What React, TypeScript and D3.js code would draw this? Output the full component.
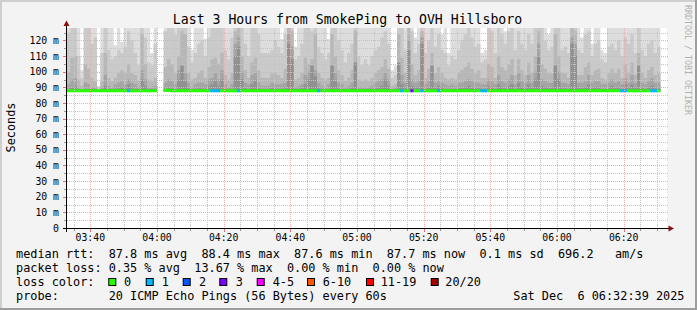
import React from "react";
import * as d3 from "d3";

// ---------- data ----------
const START = new Date(2025, 11, 6, 3, 33, 0);
const END = new Date(2025, 11, 6, 6, 33, 0);
const STEP_SEC = 60;
const Y_MAX = 128;
const SMOKE_BASE = 87.4;

// sorted ping values per 60s column (ms), outermost first; null = no data
const p20 = [
  130,130,130,130,101,130,130,130,130,91, 130,130,130,130,117,130,119,130,130,130, 130,130,130,130,130,112,130,null,null,
  130,130,130,130,130,130,130,130,114,130, 130,128,121,130,130,130,130,130,130,130, 130,130,130,130,130,130,130,130,130,130,
  130,130,130,130,130,121,130,130,130,116, 130,130,130,130,130,130,130,130,130,121, 130,130,130,130,130,130,130,130,130,130,
  130,130,130,130,130,130,130,130,101,104, 130,130,130,130,130,122,130,130,130,130, 130,130,130,124,130,112,130,130,130,130,
  130,130,130,130,130,112,114,130,130,130, 130,130,126,130,130,130,130,130,130,130, 130,130,130,130,130,124,130,130,130,130,
  130,130,130,130,130,122,130,130,118,130, 130,114,112,130,130,130,130,130,130,130, 130,130,130,130,130,130,130,130,130,
];
const p19 = [
  125,130,128,110,96,130,130,118,122,90, 112,130,114,108,110,114,112,116,126,120, 112,104,130,122,106,104,118,null,null,
  126,128,130,124,130,130,130,116,106,112, 118,120,110,122,130,130,128,130,114,108, 122,130,130,130,118,110,130,130,124,112,
  112,112,114,120,116,112,124,130,130,108, 110,118,130,130,126,130,116,112,108,112, 130,130,120,114,106,112,118,130,110,104,
  108,104,110,114,116,122,126,118,96,98, 130,130,114,130,126,112,118,130,112,120, 130,116,124,114,112,104,110,108,114,120,
  124,130,122,116,118,106,108,128,126,112, 130,124,118,126,128,114,126,118,114,124, 118,130,130,128,120,114,116,130,130,114,
  116,112,130,130,114,112,124,126,110,118, 120,108,106,116,118,114,120,110,122,118, 124,112,130,114,110,118,120,112,116,
];
const p18 = [
  100,109,110,95,91,105,102,96,94,89, 94,112,96,94,96,99,101,99,105,99, 98,94,124,105,95,94,96,null,null,
  103,108,105,99,110,126,124,99,95,96, 99,101,96,103,108,109,105,112,98,95, 99,126,128,110,101,96,106,109,101,96,
  96,96,99,99,98,96,102,128,126,95, 96,99,109,105,108,124,99,96,95,96, 124,110,101,98,94,96,101,126,95,94,
  95,94,96,99,101,103,108,102,91,92, 124,109,99,128,105,98,101,126,96,102, 112,99,103,99,96,95,96,95,99,101,
  103,106,102,99,101,96,96,105,103,96, 110,103,101,105,108,98,108,101,98,106, 99,110,126,105,102,99,99,124,110,99,
  99,96,128,126,98,98,103,106,98,101, 102,96,95,99,102,99,102,96,105,99, 106,98,112,99,96,101,103,98,99,
];
const p17 = [
  92,95,96,90,89,93,92,90,90,88.3, 90,98,91,90,92,93,94,92,95,93, 92,90,101,95,90,90,91,null,null,
  93,95,94,92,101,102,99,93,90,92, 93,93,92,95,96,99,95,101,92,90, 92,118,122,100,93,92,98,99,93,91,
  91,91,93,92,92,92,93,124,116,90, 91,92,98,100,101,101,93,91,90,92, 102,99,93,92,90,91,93,104,90,90,
  90,90,91,93,94,95,99,95,89,90, 104,98,93,120,95,93,94,122,92,94, 102,93,94,93,92,91,92,91,93,93,
  94,95,94,93,93,92,92,95,94,92, 98,94,93,95,98,92,99,94,93,98, 93,100,118,95,94,93,93,102,100,93,
  93,92,122,118,93,93,94,98,93,94, 94,92,92,93,95,93,94,92,96,93, 98,93,102,93,92,94,96,93,93,
];
const p16 = [
  89,90,91,89,88.8,89,89,89,89,88.2, 89,91,89,89,89,89.5,90,90,92,89.5, 89,89,95,91,89,89,89,null,null,
  89,90,89.5,89,95,104,94,89.5,89,89, 89.5,89.5,89,91,92,94,91,95,89,89, 89,110,116,95,89.5,89,92,94,89.5,89,
  89,89,89.5,89,89,89,89.5,118,108,89, 89,89.5,92,95,104,97,89.5,89,89,89, 104,94,89.5,89,89,89,89.5,106,89,89,
  89,89,89,89.5,90,91,95,91,88.8,89, 106,92,89.5,114,91,90,90,118,89,90, 104,89.5,91,90,89,89,89,89,89.5,89.5,
  90,91,90,89.5,89.5,89,89,91,90,89, 92,90,89.5,91,92,89,93,90,89.5,92, 89.5,95,110,91,90,89.5,89.5,104,95,89.5,
  89.5,89,118,110,89.5,89.5,90,92,89.5,90, 90,89,89,89.5,91,89.5,90,89,92,89.5, 92,89.5,104,89.5,89,90,91,89.5,89.5,
];

// median rtt as runs: [columns, ms]
const medianRuns: [number, number | null][] = [[27, 87.8], [2, null], [2, 88.2], [147, 87.8]];
// lost pings (of 20) as runs: [columns, lost]
const lossRuns: [number, number][] = [
  [18, 0], [1, 1], [24, 0], [3, 1], [5, 0], [1, 1], [23, 0], [1, 1], [24, 0], [1, 1], [2, 0], [1, 3],
  [2, 0], [1, 1], [4, 0], [1, 1], [12, 0], [2, 1], [40, 0], [2, 1], [7, 0], [2, 1], [1, 0],
];

const lossLegend = [
  { label: "0", color: "#26ff00", max: 0 },
  { label: "1", color: "#00b8ff", max: 1 },
  { label: "2", color: "#0059ff", max: 2 },
  { label: "3", color: "#7e00ff", max: 3 },
  { label: "4-5", color: "#ff00ff", max: 5 },
  { label: "6-10", color: "#ff5500", max: 10 },
  { label: "11-19", color: "#ff0000", max: 19 },
  { label: "20/20", color: "#a00000", max: 20 },
];
const smokeColors = ["#dddddd", "#cacaca", "#b7b7b7", "#a4a4a4", "#919191"];
const smokeBands = [p20, p19, p18, p17, p16];

const TITLE = "Last 3 Hours from SmokePing to OVH Hillsboro";
const Y_LABEL = "Seconds";
const WATERMARK = "RRDTOOL / TOBI OETIKER";
const LEGEND_RTT = "median rtt:  87.8 ms avg  88.4 ms max  87.6 ms min  87.7 ms now  0.1 ms sd  696.2   am/s";
const LEGEND_LOSS = "packet loss: 0.35 % avg  13.67 % max  0.00 % min  0.00 % now";
const LEGEND_COLOR = "loss color:";
const LEGEND_PROBE = "probe:       20 ICMP Echo Pings (56 Bytes) every 60s";
const DATE_STAMP = "Sat Dec  6 06:32:39 2025";

// ---------- layout ----------
const W = 697;
const H = 310;
const L = 67, R = 667, T = 28, B = 228;
const FONT = "'DejaVu Sans Mono', monospace";

function expand<T>(runs: [number, T][]): T[] {
  const out: T[] = [];
  runs.forEach(([n, v]) => { for (let i = 0; i < n; i++) out.push(v); });
  return out;
}

function dotsH(row: number, x0: number, x1: number) {
  let s = "";
  for (let xx = x0; xx < x1; xx += 2) s += `M${xx},${row}h1v1h-1z`;
  return s;
}
function dotsV(col: number, y0: number, y1: number) {
  let s = "";
  for (let yy = y0; yy < y1; yy += 2) s += `M${col},${yy}h1v1h-1z`;
  return s;
}

export default function App() {
  const x = d3.scaleTime().domain([START, END]).range([L, R]);
  const y = d3.scaleLinear().domain([0, Y_MAX]).range([B, T]);
  const n = p20.length;
  const colX = (k: number) => x(new Date(START.getTime() + k * STEP_SEC * 1000));
  const cy = (v: number) => y(Math.min(v, Y_MAX));

  const bandPath = (vals: (number | null)[]) => {
    const p = d3.path();
    let k = 0;
    while (k < n) {
      if (vals[k] == null) { k++; continue; }
      const s = k;
      p.moveTo(colX(s), y(SMOKE_BASE));
      while (k < n && vals[k] != null) {
        const yy = cy(vals[k] as number);
        p.lineTo(colX(k), yy);
        p.lineTo(colX(k + 1), yy);
        k++;
      }
      p.lineTo(colX(k), y(SMOKE_BASE));
      p.closePath();
    }
    return p.toString();
  };

  const medians = expand(medianRuns);
  const losses = expand(lossRuns);
  const lossColor = (l: number) => (lossLegend.find((d) => l <= d.max) || lossLegend[7]).color;

  const medSegs: { d: string; color: string }[] = [];
  {
    let k = 0;
    while (k < n) {
      if (medians[k] == null) { k++; continue; }
      const c = lossColor(losses[k]);
      const p = d3.path();
      p.moveTo(colX(k), y(medians[k] as number));
      while (k < n && medians[k] != null && lossColor(losses[k]) === c) {
        const yy = y(medians[k] as number);
        p.lineTo(colX(k), yy);
        p.lineTo(colX(k + 1), yy);
        k++;
      }
      medSegs.push({ d: p.toString(), color: c });
    }
  }

  const yMinor = d3.range(5, Y_MAX, 10);
  const yMajor = d3.range(10, Y_MAX, 10);
  const xAll = x.ticks(d3.timeMinute.every(5)!);
  const xMinor = xAll.filter((t) => t.getMinutes() % 20 !== 0);
  const xMajor = xAll.filter((t) => t.getMinutes() % 20 === 0);
  const fmt = d3.timeFormat("%H:%M");
  const minorC = "#c4c4c4";
  const majorC = "#f4a8a8";
  const rp = (v: number) => Math.round(v - 0.01);

  const minorPath =
    yMinor.map((v) => dotsH(rp(y(v)), L, R + 1)).join("") +
    xMinor.map((t) => dotsV(rp(x(t)), T, B)).join("");
  const majorPath =
    yMajor.map((v) => dotsH(rp(y(v)), L, R + 1)).join("") +
    xMajor.map((t) => dotsV(rp(x(t)), T, B)).join("");

  const legendFs = 11.85;
  const l1 = 257.7, l2 = 271.7, l3 = 285.7, l4 = 299.7;
  const boxX = [108.3, 145.7, 182.7, 219.3, 256.7, 307, 366, 430.7];
  const boxLabelX = [124, 161.7, 199, 235.7, 272.7, 322.7, 380.7, 445.3];

  return (
    <svg width={W} height={H} style={{ display: "block", position: "absolute", left: 0, top: 0 }}>
      <rect x={0} y={0} width={W} height={H} fill="#f3f3f3" />
      <rect x={0} y={0} width={W} height={2} fill="#cfcfcf" />
      <rect x={0} y={0} width={2} height={H} fill="#cfcfcf" />
      <rect x={0} y={H - 2} width={W} height={2} fill="#9e9e9e" />
      <rect x={W - 2} y={0} width={2} height={H} fill="#9e9e9e" />
      <rect x={L} y={T} width={R - L} height={B - T} fill="#ffffff" />

      {smokeBands.map((b, i) => (
        <path key={i} d={bandPath(b)} fill={smokeColors[i]} />
      ))}

      {medSegs.map((s, i) => (
        <path key={i} d={s.d} fill="none" stroke={s.color} strokeWidth={3} />
      ))}

      {/* grid (dotted) */}
      <path d={minorPath} fill={minorC} shapeRendering="crispEdges" />
      <path d={majorPath} fill={majorC} shapeRendering="crispEdges" />

      {/* axis ticks */}
      <g strokeWidth={1} shapeRendering="crispEdges">
        {yMinor.map((v) => (
          <line key={"tym" + v} x1={64} x2={67} y1={rp(y(v)) + 0.5} y2={rp(y(v)) + 0.5} stroke="#999" />
        ))}
        {yMajor.map((v) => (
          <line key={"tyM" + v} x1={63} x2={67} y1={rp(y(v)) + 0.5} y2={rp(y(v)) + 0.5} stroke="#e07070" />
        ))}
        {xMinor.map((t) => (
          <line key={"txm" + t.getTime()} x1={rp(x(t)) + 0.5} x2={rp(x(t)) + 0.5} y1={229} y2={231} stroke="#999" />
        ))}
        {xMajor.map((t) => (
          <line key={"txM" + t.getTime()} x1={rp(x(t)) + 0.5} x2={rp(x(t)) + 0.5} y1={229} y2={232} stroke="#e07070" />
        ))}
        <line x1={66.5} x2={66.5} y1={24} y2={232} stroke="#000" />
        <line x1={63} x2={670} y1={228.5} y2={228.5} stroke="#000" />
      </g>
      <polygon points="66.5,20.5 63.5,26 69.5,26" fill="#8b1010" />
      <polygon points="674,228.5 668.5,225.5 668.5,231.5" fill="#8b1010" />

      {/* axis labels */}
      <g fontFamily={FONT} fontSize={9.8} fill="#000">
        {[0, ...yMajor].map((v) => (
          <text key={"yl" + v} x={59} y={y(v) + 3.5} textAnchor="end">{v === 0 ? "0" : `${v} m`}</text>
        ))}
        {xMajor.map((t) => (
          <text key={"xl" + t.getTime()} x={x(t)} y={240.5} textAnchor="middle">{fmt(t)}</text>
        ))}
      </g>

      <text x={347.5} y={24} textAnchor="middle" fontFamily={FONT} fontSize={13.2} fill="#000">{TITLE}</text>
      <text transform="translate(15,127.5) rotate(-90)" textAnchor="middle" fontFamily={FONT} fontSize={11.85} fill="#000">{Y_LABEL}</text>
      <text transform="translate(685,5) rotate(90)" fontFamily={FONT} fontSize={8.3} fill="#b0b0b0">{WATERMARK}</text>

      {/* legend */}
      <g fontFamily={FONT} fontSize={legendFs} fill="#000">
        <text x={16} y={l1} xmlSpace="preserve" style={{ whiteSpace: "pre" }}>{LEGEND_RTT}</text>
        <text x={16} y={l2} xmlSpace="preserve" style={{ whiteSpace: "pre" }}>{LEGEND_LOSS}</text>
        <text x={16} y={l3}>{LEGEND_COLOR}</text>
        {lossLegend.map((d, i) => (
          <g key={d.label}>
            <rect x={boxX[i] + 0.5} y={278.5} width={7} height={7} fill={d.color} stroke="#000" strokeWidth={1} />
            <text x={boxLabelX[i]} y={l3}>{d.label}</text>
          </g>
        ))}
        <text x={16} y={l4} xmlSpace="preserve" style={{ whiteSpace: "pre" }}>{LEGEND_PROBE}</text>
        <text x={513.3} y={l4} xmlSpace="preserve" style={{ whiteSpace: "pre" }}>{DATE_STAMP}</text>
      </g>
    </svg>
  );
}
